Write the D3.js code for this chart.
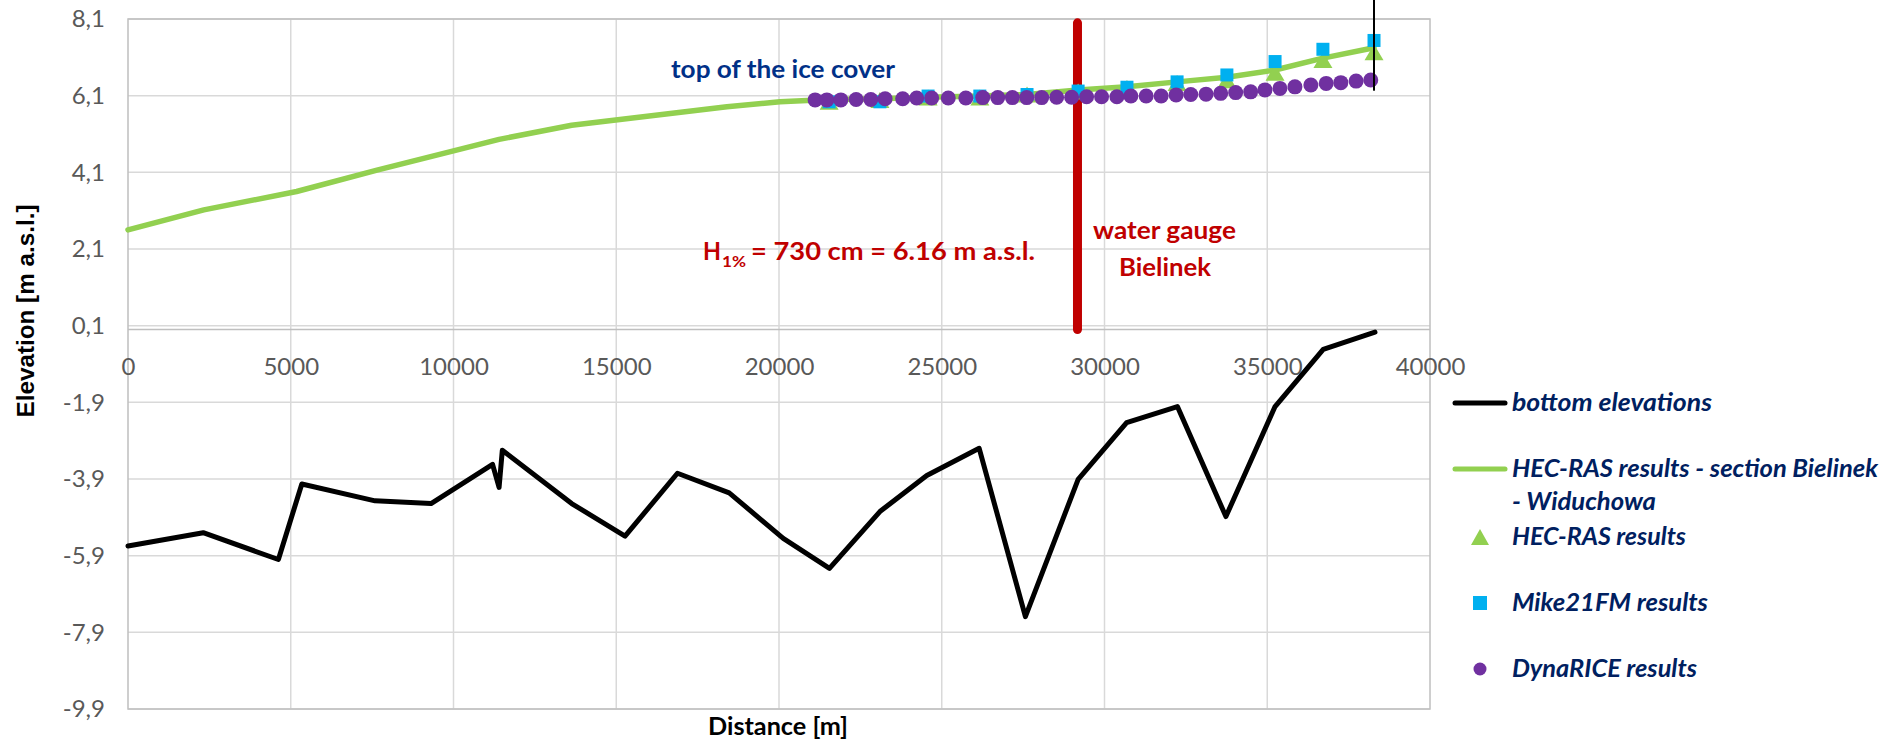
<!DOCTYPE html>
<html><head><meta charset="utf-8">
<script src="https://cdn.jsdelivr.net/npm/d3@7"></script>
<style>body{margin:0;background:#fff;} svg{display:block;}</style>
</head><body><svg id="chart" width="1885" height="743"></svg>
<script>
// ---------- DATA ----------
const xTicks = [0, 5000, 10000, 15000, 20000, 25000, 30000, 35000, 40000];
const yTicks = [8.1, 6.1, 4.1, 2.1, 0.1, -1.9, -3.9, -5.9, -7.9, -9.9];

// bottom elevations (black line)
const bottomDist = [0, 2310, 4620, 5340, 7590, 9310, 11200, 11400, 11500, 13630, 15270, 16880, 18470, 20130, 21550, 23100, 24540, 26150, 27570, 29190, 30680, 32240, 33730, 35240, 36720, 38310];
const bottomElev = [-5.65, -5.30, -6.00, -4.03, -4.47, -4.54, -3.52, -4.12, -3.15, -4.54, -5.39, -3.75, -4.26, -5.45, -6.23, -4.75, -3.81, -3.10, -7.49, -3.91, -2.43, -2.01, -4.88, -2.01, -0.52, -0.07];

// HEC-RAS results - section Bielinek - Widuchowa (green line)
const hecLineDist = [0, 2330, 5180, 7650, 10000, 11400, 13630, 18400, 20030, 21540, 23100, 24580, 26170, 27620, 29190, 30690, 32230, 33760, 35240, 36710, 38280];
const hecLineElev = [2.60, 3.12, 3.60, 4.16, 4.66, 4.96, 5.33, 5.81, 5.94, 6.00, 6.02, 6.06, 6.09, 6.13, 6.25, 6.33, 6.46, 6.58, 6.77, 7.08, 7.35];

// model result cross-sections
const resultDist = [21540, 23100, 24580, 26170, 27620, 29190, 30690, 32230, 33760, 35240, 36710, 38280];
const hecElev = [5.94, 5.99, 6.05, 6.05, 6.13, 6.21, 6.30, 6.43, 6.50, 6.70, 7.03, 7.23];
const mikeElev = [5.94, 5.94, 6.09, 6.09, 6.13, 6.22, 6.32, 6.46, 6.64, 6.99, 7.31, 7.54];

// DynaRICE results
const dynaDist = [21110, 21470, 21900, 22370, 22820, 23260, 23800, 24230, 24690, 25200, 25740, 26260, 26720, 27170, 27610, 28070, 28530, 28990, 29450, 29910, 30380, 30810, 31280, 31740, 32200, 32650, 33120, 33570, 34030, 34490, 34930, 35390, 35850, 36340, 36810, 37260, 37730, 38180];
const dynaElev = [5.99, 5.99, 5.99, 6.00, 6.00, 6.02, 6.02, 6.04, 6.04, 6.04, 6.04, 6.05, 6.05, 6.05, 6.05, 6.05, 6.06, 6.06, 6.07, 6.07, 6.07, 6.09, 6.09, 6.09, 6.12, 6.13, 6.14, 6.16, 6.18, 6.20, 6.25, 6.29, 6.33, 6.38, 6.42, 6.44, 6.48, 6.51];

// water gauge Bielinek marker, and thin reference line at the last section
const gaugeDist = [29170, 29170];
const gaugeElev = [8.0, 0.0];
const refDist = [38280, 38280];
const refElev = [8.6, 6.23];

const legendLabels = ["bottom elevations", "HEC-RAS results - section Bielinek", "- Widuchowa", "HEC-RAS results", "Mike21FM results", "DynaRICE results"];

// ---------- CHART ----------
const svg = d3.select("#chart");
const x = d3.scaleLinear().domain([0, 40000]).range([128, 1430]);
const y = d3.scaleLinear().domain([-9.9, 8.1]).range([709, 19]);
const CAL = "Lato, 'Open Sans', sans-serif";

// gridlines
const grid = svg.append("g");
grid.selectAll("line.h").data(yTicks).join("line").attr("class", "h")
  .attr("x1", x(0)).attr("x2", x(40000)).attr("y1", d => y(d)).attr("y2", d => y(d))
  .attr("stroke", "#d9d9d9").attr("stroke-width", 1.5);
grid.selectAll("line.v").data(xTicks.filter(d => d > 0 && d < 40000)).join("line").attr("class", "v")
  .attr("x1", d => x(d)).attr("x2", d => x(d)).attr("y1", y(8.1)).attr("y2", y(-9.9))
  .attr("stroke", "#d9d9d9").attr("stroke-width", 1.5);
// plot border
svg.append("rect").attr("x", x(0)).attr("y", y(8.1)).attr("width", x(40000) - x(0)).attr("height", y(-9.9) - y(8.1))
  .attr("fill", "none").attr("stroke", "#bfbfbf").attr("stroke-width", 1.5);
// horizontal axis line at 0
svg.append("line").attr("x1", x(0)).attr("x2", x(40000)).attr("y1", y(0)).attr("y2", y(0))
  .attr("stroke", "#bfbfbf").attr("stroke-width", 1.5);

// axes
const fmt = v => v.toFixed(1).replace(".", ",");
const gy = svg.append("g").attr("transform", `translate(${x(0)},0)`)
  .call(d3.axisLeft(y).tickValues(yTicks).tickSize(0).tickPadding(23).tickFormat(fmt));
const gx = svg.append("g").attr("transform", `translate(0,${y(0)})`)
  .call(d3.axisBottom(x).tickValues(xTicks).tickSize(0).tickPadding(28).tickFormat(d3.format("d")));
[gy, gx].forEach(g => {
  g.select(".domain").remove();
  g.attr("font-family", CAL).attr("font-size", 24);
  g.selectAll("text").attr("fill", "#595959");
});

// axis titles
svg.append("text").attr("transform", `translate(34,311) rotate(-90)`).attr("text-anchor", "middle")
  .attr("font-family", "'Liberation Sans', Arial, sans-serif").attr("font-weight", "bold").attr("font-size", 24)
  .attr("textLength", 213).attr("lengthAdjust", "spacingAndGlyphs").attr("fill", "#000")
  .text("Elevation [m a.s.l.]");
svg.append("text").attr("x", 708).attr("y", 735)
  .attr("font-family", CAL).attr("font-weight", "bold").attr("font-size", 24)
  .attr("textLength", 140).attr("lengthAdjust", "spacingAndGlyphs").attr("fill", "#000")
  .text("Distance [m]");

const line = d3.line().x(d => x(d[0])).y(d => y(d[1]));

// bottom elevations
svg.append("path").datum(d3.zip(bottomDist, bottomElev)).attr("d", line)
  .attr("fill", "none").attr("stroke", "#000").attr("stroke-width", 5)
  .attr("stroke-linejoin", "round").attr("stroke-linecap", "round");
// HEC-RAS section line
svg.append("path").datum(d3.zip(hecLineDist, hecLineElev)).attr("d", line)
  .attr("fill", "none").attr("stroke", "#92D050").attr("stroke-width", 5.5)
  .attr("stroke-linejoin", "round").attr("stroke-linecap", "round");
// gauge line
svg.append("path").datum(d3.zip(gaugeDist, gaugeElev)).attr("d", line)
  .attr("fill", "none").attr("stroke", "#C00000").attr("stroke-width", 9).attr("stroke-linecap", "round");

// triangles
const tri = (cx, cy, w, h) => `M${cx},${cy - h / 2}L${cx + w / 2},${cy + h / 2}L${cx - w / 2},${cy + h / 2}Z`;
svg.append("g").selectAll("path").data(d3.zip(resultDist, hecElev)).join("path")
  .attr("d", d => tri(x(d[0]), y(d[1]), 19, 16)).attr("fill", "#92D050");
// squares
svg.append("g").selectAll("rect").data(d3.zip(resultDist, mikeElev)).join("rect")
  .attr("x", d => x(d[0]) - 6.5).attr("y", d => y(d[1]) - 6.5).attr("width", 13).attr("height", 13)
  .attr("fill", "#00B0F0");
// circles
svg.append("g").selectAll("circle").data(d3.zip(dynaDist, dynaElev)).join("circle")
  .attr("cx", d => x(d[0])).attr("cy", d => y(d[1])).attr("r", 7.5).attr("fill", "#7030A0");
// thin reference line
svg.append("path").datum(d3.zip(refDist, refElev)).attr("d", line)
  .attr("fill", "none").attr("stroke", "#000").attr("stroke-width", 2);

// annotations
svg.append("text").attr("x", 671).attr("y", 78).attr("font-family", CAL).attr("font-weight", "bold")
  .attr("font-size", 24).attr("fill", "#003087").attr("textLength", 224).attr("lengthAdjust", "spacingAndGlyphs")
  .text("top of the ice cover");
const red = "#C00000";
svg.append("text").attr("x", 703).attr("y", 260).attr("font-family", CAL).attr("font-weight", "bold")
  .attr("font-size", 25).attr("fill", red).attr("textLength", 18).attr("lengthAdjust", "spacingAndGlyphs").text("H");
svg.append("text").attr("x", 722).attr("y", 267).attr("font-family", CAL).attr("font-weight", "bold")
  .attr("font-size", 16).attr("fill", red).attr("textLength", 24).attr("lengthAdjust", "spacingAndGlyphs").text("1%");
svg.append("text").attr("x", 751).attr("y", 260).attr("font-family", CAL).attr("font-weight", "bold")
  .attr("font-size", 25).attr("fill", red).attr("textLength", 284).attr("lengthAdjust", "spacingAndGlyphs")
  .text("= 730 cm = 6.16 m a.s.l.");
svg.append("text").attr("x", 1093).attr("y", 239).attr("font-family", CAL).attr("font-weight", "bold")
  .attr("font-size", 25).attr("fill", red).attr("textLength", 143).attr("lengthAdjust", "spacingAndGlyphs")
  .text("water gauge");
svg.append("text").attr("x", 1119).attr("y", 276).attr("font-family", CAL).attr("font-weight", "bold")
  .attr("font-size", 25).attr("fill", red).attr("textLength", 92).attr("lengthAdjust", "spacingAndGlyphs")
  .text("Bielinek");

// legend
const lg = svg.append("g");
const navy = "#002060";
const legText = (t, ty, len) => lg.append("text").attr("x", 1512).attr("y", ty + 8)
  .attr("font-family", CAL).attr("font-weight", "bold").attr("font-style", "italic").attr("font-size", 24)
  .attr("fill", navy).attr("textLength", len).attr("lengthAdjust", "spacingAndGlyphs").text(t);
lg.append("line").attr("x1", 1455).attr("x2", 1505).attr("y1", 403).attr("y2", 403)
  .attr("stroke", "#000").attr("stroke-width", 5).attr("stroke-linecap", "round");
legText(legendLabels[0], 403, 200);
lg.append("line").attr("x1", 1455).attr("x2", 1505).attr("y1", 469).attr("y2", 469)
  .attr("stroke", "#92D050").attr("stroke-width", 5).attr("stroke-linecap", "round");
legText(legendLabels[1], 469, 366);
legText(legendLabels[2], 502, 144);
lg.append("path").attr("d", tri(1480, 537, 18, 16)).attr("fill", "#92D050");
legText(legendLabels[3], 537, 174);
lg.append("rect").attr("x", 1473).attr("y", 596).attr("width", 14).attr("height", 14).attr("fill", "#00B0F0");
legText(legendLabels[4], 603, 196);
lg.append("circle").attr("cx", 1480).attr("cy", 669).attr("r", 6.5).attr("fill", "#7030A0");
legText(legendLabels[5], 669, 185);
</script>
</body></html>
